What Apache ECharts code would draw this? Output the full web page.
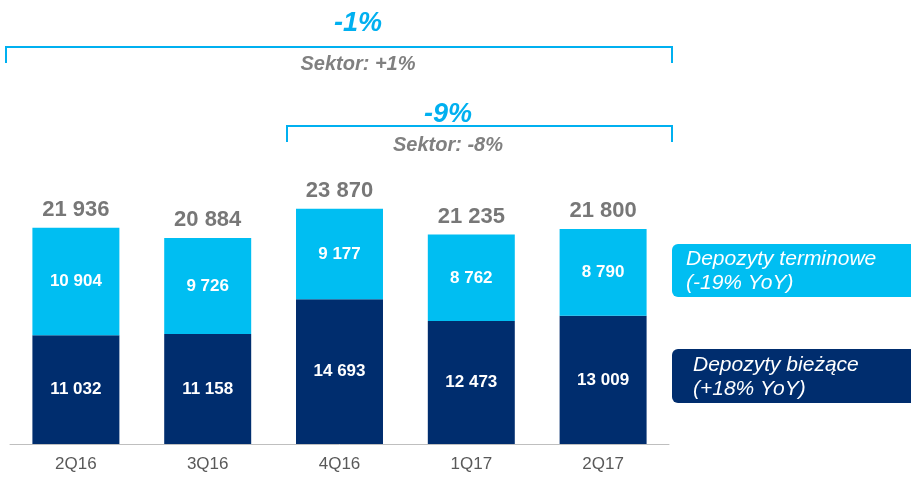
<!DOCTYPE html>
<html><head><meta charset="utf-8">
<script src="https://cdn.jsdelivr.net/npm/echarts@6/dist/echarts.min.js"></script>
<style>html,body{margin:0;padding:0;background:#fff}#c{width:911px;height:482px}</style>
</head><body><div id="c"></div>
<script>
const categories = ['2Q16', '3Q16', '4Q16', '1Q17', '2Q17'];
const biezace = [11032, 11158, 14693, 12473, 13009];
const terminowe = [10904, 9726, 9177, 8762, 8790];
const totals = [21936, 20884, 23870, 21235, 21800];
const legendTexts = ['Depozyty terminowe\n(-19% YoY)', 'Depozyty bieżące\n(+18% YoY)'];
const bracketTexts = [['-1%', 'Sektor: +1%'], ['-9%', 'Sektor: -8%']];

const LIGHT = '#00BEF2', DARK = '#002D6E', GREY = '#555555', BR = '#00B0F0';
const FONT = '"Liberation Sans", Arial, sans-serif';
const fmt = v => String(v).replace(/\B(?=(\d{3})+(?!\d))/g, ' ');

const chart = echarts.init(document.getElementById('c'));
chart.setOption({
  animation: false,
  textStyle: { fontFamily: FONT },
  grid: { left: 10, right: 242, top: 197.5, bottom: 38 },
  xAxis: {
    type: 'category', data: categories,
    axisLine: { lineStyle: { color: '#BFBFBF', width: 1 } },
    axisTick: { length: 5, lineStyle: { color: '#BFBFBF' } },
    axisLabel: { color: '#595959', fontSize: 17, margin: 12, fontFamily: FONT }
  },
  yAxis: { type: 'value', min: 0, max: 25000, show: false, splitLine: { show: false } },
  series: [
    { type: 'bar', stack: 's', data: biezace, barCategoryGap: '34%', itemStyle: { color: DARK },
      label: { show: true, position: 'inside', color: '#fff', fontWeight: 'bold', fontSize: 17, fontFamily: FONT, formatter: p => fmt(p.value) } },
    { type: 'bar', stack: 's', data: terminowe, itemStyle: { color: LIGHT },
      label: { show: true, position: 'inside', color: '#fff', fontWeight: 'bold', fontSize: 17, fontFamily: FONT, formatter: p => fmt(p.value) } },
    { type: 'scatter', data: totals, symbolSize: 0, silent: true,
      label: { show: true, position: 'top', distance: 7, color: GREY, fontWeight: 'bold', fontSize: 22, fontFamily: FONT, formatter: p => fmt(p.value) } }
  ],
  graphic: [
    { type: 'polyline', shape: { points: [[6, 63], [6, 47], [672, 47], [672, 63]] }, style: { stroke: BR, lineWidth: 2, fill: null } },
    { type: 'text', x: 358, y: 24, style: { text: bracketTexts[0][0], fill: BR, font: 'italic bold 27px ' + FONT, textAlign: 'center', textVerticalAlign: 'middle' } },
    { type: 'text', x: 358, y: 64, style: { text: bracketTexts[0][1], fill: '#808080', font: 'italic bold 20px ' + FONT, textAlign: 'center', textVerticalAlign: 'middle' } },
    { type: 'polyline', shape: { points: [[287, 142], [287, 126], [672, 126], [672, 142]] }, style: { stroke: BR, lineWidth: 2, fill: null } },
    { type: 'text', x: 448, y: 115, style: { text: bracketTexts[1][0], fill: BR, font: 'italic bold 27px ' + FONT, textAlign: 'center', textVerticalAlign: 'middle' } },
    { type: 'text', x: 448, y: 145, style: { text: bracketTexts[1][1], fill: '#808080', font: 'italic bold 20px ' + FONT, textAlign: 'center', textVerticalAlign: 'middle' } },
    { type: 'rect', shape: { x: 672, y: 244, width: 250, height: 53, r: 6 }, style: { fill: LIGHT } },
    { type: 'text', x: 686, y: 271, style: { text: legendTexts[0], fill: '#fff', font: 'italic 21px ' + FONT, lineHeight: 24, textVerticalAlign: 'middle' } },
    { type: 'rect', shape: { x: 672, y: 349, width: 250, height: 54, r: 6 }, style: { fill: DARK } },
    { type: 'text', x: 693, y: 377, style: { text: legendTexts[1], fill: '#fff', font: 'italic 21px ' + FONT, lineHeight: 24, textVerticalAlign: 'middle' } }
  ]
});
</script></body></html>
